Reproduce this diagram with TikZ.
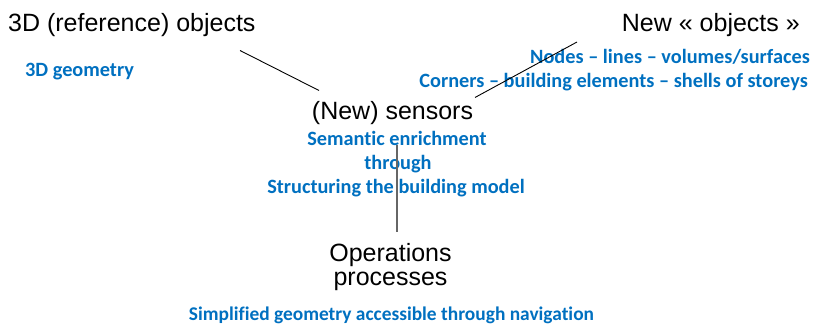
\documentclass[tikz,border=0pt]{standalone}
\usepackage{fontspec}
\setmainfont{Liberation Sans}
\newfontfamily\calfont[Ligatures={NoCommon}]{Carlito}
\definecolor{ablue}{RGB}{0,112,192}
\tikzset{
  big/.style={inner sep=0pt, font=\fontsize{25}{28}\selectfont, text=black},
  blue/.style={inner sep=0pt, font=\calfont\bfseries\fontsize{20.3}{24}\selectfont, text=ablue},
  bluesm/.style={inner sep=0pt, font=\calfont\bfseries\fontsize{19.4}{24}\selectfont, text=ablue},
  conn/.style={line width=0.9pt, black},
  gconn/.style={line width=1.4pt, black!60}
}
\begin{document}
\begin{tikzpicture}[x=1pt,y=-1pt]
\useasboundingbox (0,0) rectangle (813,328);
\node[big, anchor=base west] (ref) at (8,32) {3D (reference) objects};
\node[blue, anchor=base west] (geo) at (25,77) {3D geometry};
\node[big, anchor=base east] (newobj) at (800,32) {New « objects »};
\node[blue, anchor=base east] (nodes) at (810,64) {Nodes – lines – volumes/surfaces};
\node[blue, anchor=base east] (corners) at (808,88) {Corners – building elements – shells of storeys};
\node[big, anchor=base] (sensors) at (392.5,120) {(New) sensors};
\node[blue, anchor=base] (sem) at (397,146) {Semantic enrichment};
\node[blue, anchor=base] (through) at (398,170) {through};
\node[blue, anchor=base] (struct) at (396,194) {Structuring the building model};
\node[big, anchor=base] (ops) at (390.5,262) {Operations};
\node[big, anchor=base] (proc) at (390.5,286) {processes};
\node[bluesm, anchor=base] (simp) at (391.5,320) {Simplified geometry accessible through navigation};
\coordinate (l1a) at (240,50.5);
\coordinate (l1b) at (319,90.5);
\coordinate (l2a) at (577,42);
\coordinate (l2b) at (475,97.5);
\coordinate (v1) at (397,145);
\coordinate (v2) at (397,232);
\draw[conn] (l1a) -- (l1b);
\draw[conn] (l2a) -- (l2b);
\draw[gconn] (v1) -- (v2);
\end{tikzpicture}
\end{document}
